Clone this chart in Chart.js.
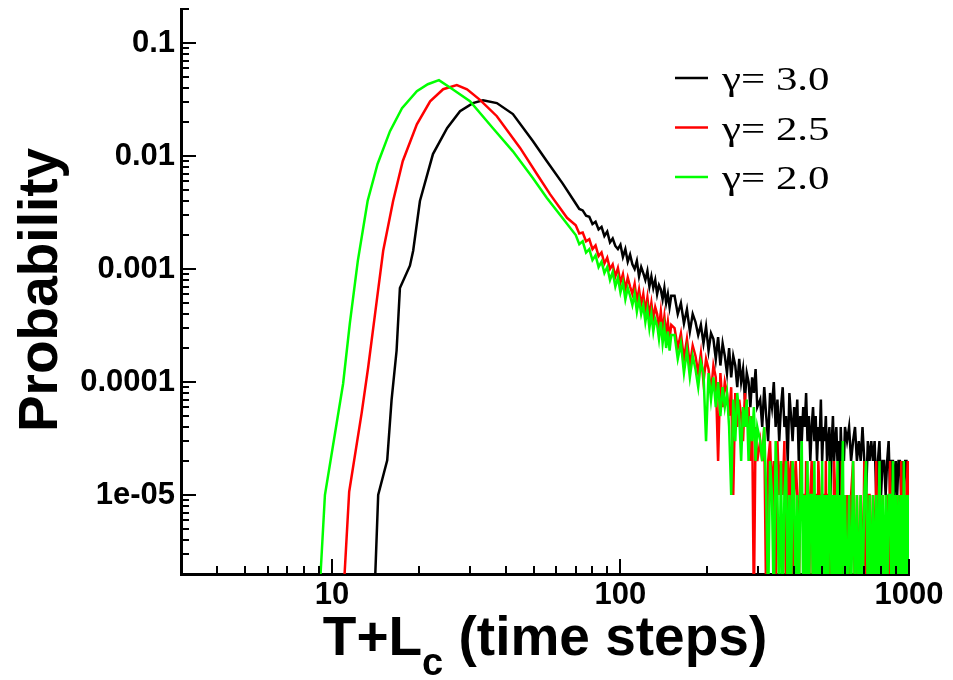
<!DOCTYPE html>
<html>
<head>
<meta charset="utf-8">
<script src="https://cdn.jsdelivr.net/npm/chart.js@4.4.0/dist/chart.umd.min.js"></script>
<style>
  html, body { margin: 0; padding: 0; background: #fff; }
</style>
</head>
<body>
<canvas id="chart" width="953" height="680"></canvas>
<script>
// axis ranges and ticks
const xMin = 3;
const xMax = 1000;
const yMin = 2e-6;
const yMax = 0.2;
const xMajorTicks = [10, 100, 1000];
const xMajorLabels = ['10', '100', '1000'];
const xMinorTicks = [4, 5, 6, 7, 8, 9, 20, 30, 40, 50, 60, 70, 80, 90, 200, 300, 400, 500, 600, 700, 800, 900];
const yMajorTicks = [1e-5, 1e-4, 1e-3, 0.01, 0.1];
const yMajorLabels = ['1e-05', '0.0001', '0.001', '0.01', '0.1'];
const yMinorTicks = [
  2e-6, 3e-6, 4e-6, 5e-6, 6e-6, 7e-6, 8e-6, 9e-6,
  2e-5, 3e-5, 4e-5, 5e-5, 6e-5, 7e-5, 8e-5, 9e-5,
  2e-4, 3e-4, 4e-4, 5e-4, 6e-4, 7e-4, 8e-4, 9e-4,
  2e-3, 3e-3, 4e-3, 5e-3, 6e-3, 7e-3, 8e-3, 9e-3,
  0.02, 0.03, 0.04, 0.05, 0.06, 0.07, 0.08, 0.09, 0.2,
];

const seriesLabels = ['\u03b3= 3.0', '\u03b3= 2.5', '\u03b3= 2.0'];
const seriesColors = ['#000000', '#ff0000', '#00ff00'];

// smooth part of each curve (probability)
const blackBodyX = [14.0, 14.47, 15.55, 16.1, 16.76, 17.21, 18.64, 19.13, 20.19, 22.4, 25.1, 27.8, 30.8, 33.4, 37.3, 42.4, 49.7, 55.6, 63.1];
const blackBodyY = [1e-6, 1e-5, 2.03e-5, 6.9e-5, 1.9e-4, 6.8e-4, 1.07e-3, 1.45e-3, 4.0e-3, 0.0104, 0.0177, 0.0249, 0.0294, 0.0312, 0.0294, 0.0235, 0.0136, 9.0e-3, 5.7e-3];

const redBodyX = [10.9, 11.48, 12.68, 13.36, 14.3, 15.06, 16.3, 17.6, 19.7, 21.9, 24.3, 27.1, 29.4, 32.6, 37.3, 44.9, 51.4, 57.0, 65.3];
const redBodyY = [1e-6, 1.07e-5, 5.3e-5, 1.35e-4, 5.2e-4, 1.45e-3, 4.0e-3, 9.0e-3, 0.0191, 0.0305, 0.039, 0.0424, 0.039, 0.0314, 0.0225, 0.0118, 6.9e-3, 4.6e-3, 2.84e-3];

const greenBodyX = [9.0, 9.46, 10.94, 11.54, 12.3, 13.3, 14.4, 15.9, 17.5, 19.7, 21.5, 23.5, 26.2, 30.1, 36.1, 42.4, 49.7, 55.6, 62.5];
const greenBodyY = [1e-6, 1e-5, 9.7e-5, 3.3e-4, 1.18e-3, 4.0e-3, 8.5e-3, 0.0166, 0.0265, 0.0375, 0.0432, 0.0469, 0.039, 0.0305, 0.0177, 0.011, 6.4e-3, 4.26e-3, 2.9e-3];

// noisy tail, shared time steps; values are counts of 1e-5
const tailX = [
  70, 72, 74, 76, 78, 80, 82, 84, 86, 88, 90, 92, 94, 96, 98, 100, 102, 104, 106, 108,
  110, 112, 114, 116, 118, 120, 122, 124, 126, 128, 130, 132, 134, 136, 138, 140, 142, 144, 146, 148, 150,
  154, 158, 162, 166, 170, 174, 178, 182, 186, 190, 194, 198, 202, 206, 210, 214, 218, 222, 226, 230,
  234, 238, 242, 246, 250, 254, 258, 262, 266, 270, 274, 278, 282, 286, 290, 294, 298,
  305, 310, 315, 320, 325, 330, 335, 340, 345, 350, 355, 360, 365, 370, 375, 380, 385, 390, 395, 400,
  405, 410, 415, 420, 425, 430, 435, 440, 445, 450, 455, 460, 465, 470, 475, 480, 485, 490, 495, 500,
  505, 510, 515, 520, 525, 530, 535, 540, 545, 550, 555, 560, 565, 570, 575, 580, 585, 590, 595, 600,
  610, 620, 630, 640, 650, 660, 670, 680, 690, 700, 710, 720, 730, 740, 750, 760, 770, 780, 790, 800,
  810, 820, 830, 840, 850, 860, 870, 880, 890, 900, 910, 920, 930, 940, 950, 960, 970, 980, 990, 1000,
];

const blackTail = [
  380, 340, 330, 296, 290, 250, 262, 224, 236, 196, 214, 172, 186, 160, 150, 164, 128, 150, 116, 134,
  110, 100, 118, 86, 104, 92, 80, 96, 70, 86, 68, 80, 60, 72, 66, 54, 68, 50, 60, 46, 58,
  58, 40, 50, 33, 44, 28, 40, 34, 26, 32, 22, 31, 19, 27, 24, 16, 25, 14, 22, 17,
  12, 20, 11, 17, 14, 9, 16, 10, 13, 7, 12, 10, 6, 11, 8, 13, 6,
  7, 4, 9, 5, 3, 8, 6, 10, 4, 7, 3, 6, 9, 4, 5, 2, 8, 5, 3, 6,
  4, 7, 2, 5, 3, 6, 4, 8, 3, 5, 2, 4, 6, 3, 5, 2, 4, 3, 7, 2,
  4, 3, 5, 2, 3, 4, 1, 3, 5, 2, 3, 4, 2, 3, 1, 4, 2, 3, 2, 4,
  3, 4, 2, 3, 4, 2, 3, 2, 4, 2, 1, 3, 2, 3, 2, 3, 1, 2, 3, 1,
  2, 2, 1, 2, 3, 1, 2, 2, 1, 2, 1, 2, 2, 1, 2, 1, 2, 2, 1, 2,
];

const redTail = [
  244, 206, 210, 176, 184, 150, 162, 130, 140, 112, 126, 100, 110, 86, 102, 76, 90, 66, 84, 70,
  60, 74, 52, 66, 48, 60, 42, 56, 38, 50, 36, 46, 40, 30, 42, 28, 38, 26, 34, 24, 32,
  30, 20, 27, 16, 24, 14, 21, 17, 12, 18, 10, 16, 13, 8, 14, 11, 2, 12, 6, 10,
  8, 5, 9, 1, 8, 4, 7, 5, 3, 8, 4, 6, 2, 5, 0, 4, 2,
  3, 2, 4, 0, 2, 3, 1, 2, 0, 3, 1, 2, 1, 3, 0, 2, 1, 2, 0, 1,
  2, 1, 0, 2, 1, 1, 0, 2, 1, 0, 1, 2, 0, 1, 1, 0, 2, 1, 0, 1,
  1, 0, 2, 0, 1, 1, 0, 1, 0, 2, 1, 0, 1, 0, 1, 0, 2, 0, 1, 0,
  1, 0, 1, 2, 0, 1, 0, 1, 0, 2, 0, 1, 1, 0, 1, 0, 2, 0, 1, 0,
  1, 0, 0, 1, 0, 2, 0, 1, 0, 1, 0, 1, 0, 2, 0, 1, 0, 1, 2, 0,
];

const greenTail = [
  200, 166, 176, 140, 150, 120, 132, 104, 116, 92, 104, 80, 94, 70, 84, 62, 76, 54, 68, 58,
  48, 60, 42, 54, 40, 48, 34, 44, 30, 40, 28, 36, 32, 24, 34, 22, 30, 20, 28, 19, 26,
  26, 16, 22, 12, 19, 11, 17, 13, 9, 15, 12, 3, 12, 7, 11, 6, 10, 5, 9, 6,
  8, 4, 1, 7, 3, 8, 5, 2, 6, 4, 7, 2, 5, 3, 6, 2, 4,
  3, 2, 4, 1, 0, 2, 1, 0, 3, 1, 0, 2, 0, 1, 2, 0, 1, 0, 2, 1,
  0, 1, 0, 1, 3, 0, 1, 0, 2, 0, 1, 1, 0, 2, 0, 1, 0, 1, 0, 2,
  0, 1, 0, 1, 0, 2, 1, 0, 1, 0, 1, 0, 2, 0, 1, 0, 1, 3, 0, 1,
  0, 1, 0, 2, 0, 1, 0, 1, 0, 1, 2, 0, 1, 0, 1, 0, 1, 0, 2, 0,
  1, 0, 1, 0, 1, 1, 0, 2, 0, 1, 0, 1, 0, 1, 0, 2, 0, 1, 0, 1,
];

const countUnit = 1e-5;
const belowAxis = 1e-6; // zero counts fall off the bottom of the log axis

const tickFont = { family: '"Liberation Sans", Arial, sans-serif', size: 31, weight: 'bold' };

function buildPoints(bodyX, bodyY, tail) {
  const body = bodyX.map((x, i) => ({ x, y: bodyY[i] }));
  const rest = tailX.map((x, i) => ({ x, y: tail[i] === 0 ? belowAxis : tail[i] * countUnit }));
  return body.concat(rest);
}

const datasets = [
  { label: seriesLabels[0], data: buildPoints(blackBodyX, blackBodyY, blackTail), borderColor: seriesColors[0], order: 3 },
  { label: seriesLabels[1], data: buildPoints(redBodyX, redBodyY, redTail), borderColor: seriesColors[1], order: 2 },
  { label: seriesLabels[2], data: buildPoints(greenBodyX, greenBodyY, greenTail), borderColor: seriesColors[2], order: 1 },
].map((ds) => ({ ...ds, borderWidth: 2.5, pointRadius: 0, tension: 0, fill: false }));

function setTicks(majors, minors) {
  return (scale) => {
    scale.ticks = majors.concat(minors).sort((a, b) => a - b).map((value) => ({ value }));
  };
}

const decorPlugin = {
  id: 'decor',
  afterDraw(chart) {
    const { ctx, chartArea } = chart;
    const { x, y } = chart.scales;
    ctx.save();

    // inward tick marks
    ctx.strokeStyle = '#000';
    ctx.lineWidth = 2;
    ctx.beginPath();
    xMajorTicks.concat(xMinorTicks).forEach((v) => {
      const len = xMajorTicks.includes(v) ? 15 : 8;
      const px = Math.round(x.getPixelForValue(v));
      ctx.moveTo(px, chartArea.bottom);
      ctx.lineTo(px, chartArea.bottom - len);
    });
    yMajorTicks.concat(yMinorTicks).forEach((v) => {
      const len = yMajorTicks.includes(v) ? 15 : 8;
      const py = Math.round(y.getPixelForValue(v));
      ctx.moveTo(chartArea.left, py);
      ctx.lineTo(chartArea.left + len, py);
    });
    ctx.stroke();

    // legend (serif text, drawn a little wide like the original)
    seriesLabels.forEach((label, i) => {
      const rowY = 78 + i * 49.5;
      ctx.strokeStyle = seriesColors[i];
      ctx.lineWidth = 2.5;
      ctx.beginPath();
      ctx.moveTo(675, rowY);
      ctx.lineTo(708, rowY);
      ctx.stroke();
      ctx.save();
      ctx.translate(722, rowY + 12);
      ctx.scale(1.3, 1);
      ctx.font = '33px "Liberation Serif", "Times New Roman", serif';
      ctx.textAlign = 'left';
      ctx.textBaseline = 'alphabetic';
      ctx.fillStyle = '#000';
      ctx.fillText(label, 0, 0);
      ctx.restore();
    });

    // x title with subscript
    const bigFont = 'bold 55px "Liberation Sans", Arial, sans-serif';
    const subFont = 'bold 38px "Liberation Sans", Arial, sans-serif';
    const parts = [
      { text: 'T+L', font: bigFont, dy: 0 },
      { text: 'c', font: subFont, dy: 20 },
      { text: ' (time steps)', font: bigFont, dy: 0 },
    ];
    let total = 0;
    parts.forEach((p) => { ctx.font = p.font; p.w = ctx.measureText(p.text).width; total += p.w; });
    let cx = (chartArea.left + chartArea.right) / 2 - total / 2;
    ctx.fillStyle = '#000';
    ctx.textAlign = 'left';
    parts.forEach((p) => {
      ctx.font = p.font;
      ctx.fillText(p.text, cx, 655 + p.dy);
      cx += p.w;
    });

    // y title
    ctx.translate(57, 290);
    ctx.rotate(-Math.PI / 2);
    ctx.font = bigFont;
    ctx.textAlign = 'center';
    ctx.fillText('Probability', 0, 0);

    ctx.restore();
  },
};

new Chart(document.getElementById('chart'), {
  type: 'line',
  data: { datasets },
  options: {
    responsive: false,
    animation: false,
    layout: { padding: { top: 9, right: 44, bottom: 0, left: 0 } },
    plugins: { legend: { display: false }, tooltip: { enabled: false } },
    scales: {
      x: {
        type: 'logarithmic',
        position: 'bottom',
        min: xMin,
        max: xMax,
        afterBuildTicks: setTicks(xMajorTicks, xMinorTicks),
        afterFit(scale) {
          scale.height = 106;
          scale.paddingLeft = 0;
          scale.paddingRight = 0;
        },
        grid: { display: false, drawTicks: false },
        border: { display: true, color: '#000', width: 3 },
        ticks: {
          autoSkip: false,
          maxRotation: 0,
          minRotation: 0,
          padding: 3,
          color: '#000',
          font: tickFont,
          callback(value) {
            const i = xMajorTicks.indexOf(value);
            return i >= 0 ? xMajorLabels[i] : '';
          },
        },
      },
      y: {
        type: 'logarithmic',
        position: 'left',
        min: yMin,
        max: yMax,
        afterBuildTicks: setTicks(yMajorTicks, yMinorTicks),
        afterFit(scale) {
          scale.width = 181;
          scale.paddingTop = 0;
          scale.paddingBottom = 0;
        },
        grid: { display: false, drawTicks: false },
        border: { display: true, color: '#000', width: 3 },
        ticks: {
          autoSkip: false,
          padding: 6,
          color: '#000',
          font: tickFont,
          callback(value) {
            const i = yMajorTicks.findIndex((t) => Math.abs(t - value) / t < 1e-6);
            return i >= 0 ? yMajorLabels[i] : '';
          },
        },
      },
    },
  },
  plugins: [decorPlugin],
});
</script>
</body>
</html>
